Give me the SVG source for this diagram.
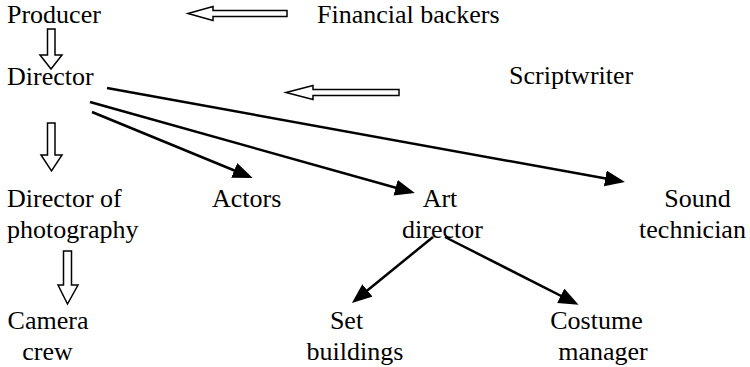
<svg xmlns="http://www.w3.org/2000/svg" width="750" height="367" viewBox="0 0 750 367" font-family="'Liberation Serif', 'Times New Roman', serif" font-size="26">
<defs>
<style>
text{font-family:"Liberation Serif","Times New Roman",serif;font-size:26px;fill:#000}
.c{text-anchor:middle}
.hollow{fill:#fff;stroke:#000;stroke-width:1.5;stroke-linejoin:miter}
.line{stroke:#000;stroke-width:2.5;fill:none}
</style>
<marker id="ah" markerUnits="userSpaceOnUse" markerWidth="22" markerHeight="18" refX="16" refY="8" orient="auto" viewBox="0 0 22 18">
<path d="M0,0 L20,8 L0,16 z" fill="#000"/>
</marker>
</defs>
<rect width="750" height="367" fill="#fff"/>
<g id="producer"><text x="7" y="23">Producer</text></g>
<g id="financial-backers"><text x="317" y="23">Financial backers</text></g>
<g id="director"><text x="7" y="85">Director</text></g>
<g id="scriptwriter"><text x="509" y="84">Scriptwriter</text></g>
<g id="director-of-photography"><text x="7" y="207">Director of</text><text x="7" y="238">photography</text></g>
<g id="actors"><text x="212" y="207">Actors</text></g>
<g id="art-director"><text class="c" x="440" y="207">Art</text><text class="c" x="442.5" y="238">director</text></g>
<g id="sound-technician"><text class="c" x="697.5" y="207">Sound</text><text class="c" x="692.5" y="238">technician</text></g>
<g id="camera-crew"><text class="c" x="48" y="329">Camera</text><text class="c" x="47.5" y="360">crew</text></g>
<g id="set-buildings"><text class="c" x="346.5" y="329">Set</text><text class="c" x="355" y="360">buildings</text></g>
<g id="costume-manager"><text class="c" x="596.5" y="329">Costume</text><text class="c" x="603" y="360">manager</text></g>
<g id="connectors">
<polygon class="hollow" points="188,13.5 213,6.5 213,10.5 287,10.5 287,16.5 213,16.5 213,20.5"/>
<polygon class="hollow" points="47.5,29 55,29 55,55 62,55 51,69 40,55 47.5,55"/>
<polygon class="hollow" points="286,92.5 313,85.5 313,89.5 399,89.5 399,95.5 313,95.5 313,99.5"/>
<polygon class="hollow" points="47.5,123 55,123 55,155 62,155 51.5,171 41,155 47.5,155"/>
<polygon class="hollow" points="63.5,251 71.5,251 71.5,285 78,285 67.5,304 58,285 63.5,285"/>
<line class="line" x1="92" y1="112" x2="249" y2="176.5" marker-end="url(#ah)"/>
<line class="line" x1="90" y1="102" x2="411" y2="192" marker-end="url(#ah)"/>
<line class="line" x1="107" y1="88" x2="621" y2="181.3" marker-end="url(#ah)"/>
<line class="line" x1="433" y1="237" x2="355" y2="300.5" marker-end="url(#ah)"/>
<line class="line" x1="445" y1="237" x2="575" y2="303" marker-end="url(#ah)"/>
</g>
</svg>
